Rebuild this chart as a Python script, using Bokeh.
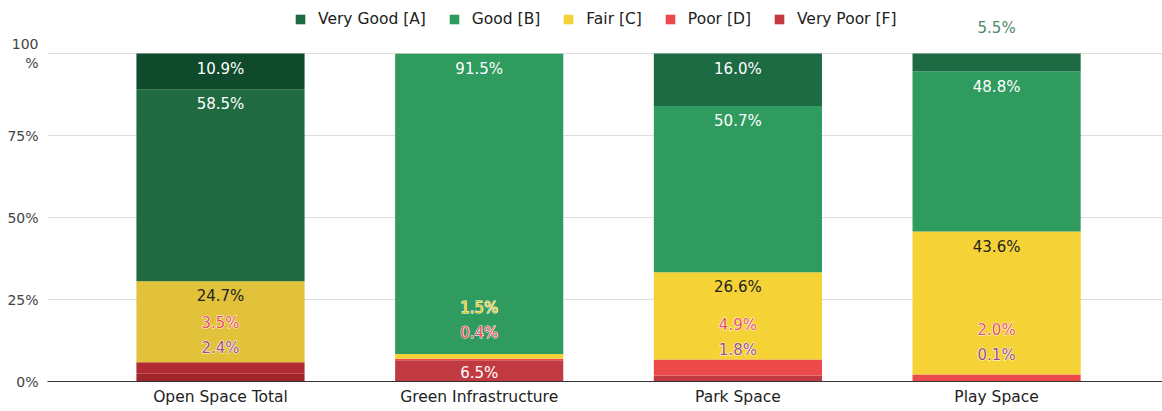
from bokeh.plotting import figure
from bokeh.models import ColumnDataSource, Range1d, FixedTicker, Legend, LegendItem
from bokeh.core.properties import value
from bokeh.embed import file_html
from bokeh.resources import INLINE

# ---------------- data ----------------
categories = ["Open Space Total", "Green Infrastructure", "Park Space", "Play Space"]
series_names = ["Very Good [A]", "Good [B]", "Fair [C]", "Poor [D]", "Very Poor [F]"]
very_good = [10.9, 0.0, 16.0, 5.5]
good = [58.5, 91.5, 50.7, 48.8]
fair = [24.7, 1.5, 26.6, 43.6]
poor = [3.5, 0.4, 4.9, 2.0]
very_poor = [2.4, 6.5, 1.8, 0.1]
y_ticks = [0, 25, 50, 75, 100]
y_tick_labels = ["0%", "25%", "50%", "75%", "100\n%"]

# ---------------- style / layout ----------------
FONT = "DejaVu Sans"
W, H = 1162, 411
BT, BB, BL, BR = 0, 30, 47, 0
FRAME_W = W - BL - BR
FRAME_H = H - BT - BB           # frame reaches the top so outside labels / legend are not clipped
TOP_LINE_PX = 53                # pixel row of the 100% line within the frame
ppu = (FRAME_H - TOP_LINE_PX) / 100.0
y_end = FRAME_H / ppu

base_colors = {"A": "#1d6b42", "B": "#2f9b5e", "C": "#f5d235", "D": "#ec4a4a", "F": "#c23a41"}
# first bar is shown darker (highlighted) in the original
dark_colors = {"A": "#0e4a2b", "B": "#1f6a41", "C": "#e2c23a", "D": "#b02b31", "F": "#9e2529"}
inside_text = {"A": "#ffffff", "B": "#ffffff", "C": "#222222", "D": "#ffffff", "F": "#ffffff"}
outside_text = {"A": "#4e8a67", "B": "#2f9b5e", "C": "#e3c41a", "D": "#e8505a", "F": "#9c4f78"}

keys = ["A", "B", "C", "D", "F"]
vals = {"A": very_good, "B": good, "C": fair, "D": poor, "F": very_poor}
names = dict(zip(keys, series_names))
stack_order = ["F", "D", "C", "B", "A"]  # bottom -> top

x = list(range(len(categories)))
unit_px = 258.7
x_start = -173 / unit_px
x_end = x_start + FRAME_W / unit_px

p = figure(width=W, height=H, output_backend="svg", toolbar_location=None,
           x_range=Range1d(x_start, x_end), y_range=Range1d(0, y_end),
           min_border_top=BT, min_border_bottom=BB, min_border_left=BL, min_border_right=BR)
p.outline_line_color = None
p.background_fill_color = "white"

renderers = {}
cum = [0.0] * len(categories)
for k in stack_order:
    bottoms = list(cum)
    tops = [b + v for b, v in zip(bottoms, vals[k])]
    cum = tops
    colors = [dark_colors[k]] + [base_colors[k]] * (len(categories) - 1)
    src = ColumnDataSource(dict(x=x, bottom=bottoms, top=tops, color=colors))
    renderers[k] = p.vbar(x="x", bottom="bottom", top="top", width=0.65, source=src,
                          fill_color="color", line_color=None)

# ---------------- data labels (collision-avoiding placement) ----------------
in_d = dict(x=[], y=[], t=[], c=[])
out_d = dict(x=[], y=[], t=[], c=[])
for i in range(len(categories)):
    c0 = 0.0
    prev = None
    for k in stack_order:
        v = vals[k][i]
        b, t = c0, c0 + v
        c0 = t
        if v <= 0:
            continue
        top_px = (100 - t) * ppu
        bot_px = (100 - b) * ppu
        if v * ppu >= 20:
            center = min(top_px + 15, bot_px - 9)
            inside = True
        else:
            center = top_px - 26
            inside = False
        if prev is not None:
            center = min(center, prev - 25)
        prev = center
        yv = 100 - center / ppu
        d = in_d if inside else out_d
        d["x"].append(i)
        d["y"].append(yv)
        d["t"].append(f"{v:.1f}%")
        d["c"].append(inside_text[k] if inside else outside_text[k])

p.text(x="x", y="y", text="t", text_color="c", source=ColumnDataSource(in_d),
       text_align="center", text_baseline="middle", text_font=value(FONT),
       text_font_size="15px")
out_src = ColumnDataSource(out_d)
p.text(x="x", y="y", text="t", text_color="white", source=out_src,
       text_align="center", text_baseline="middle", text_font=value(FONT),
       text_font_size="15px", text_outline_color="white")
p.text(x="x", y="y", text="t", text_color="c", source=out_src,
       text_align="center", text_baseline="middle", text_font=value(FONT),
       text_font_size="15px")

# ---------------- axes ----------------
p.xgrid.grid_line_color = None
p.ygrid.grid_line_color = "#dddddd"
p.ygrid.ticker = FixedTicker(ticks=y_ticks)

p.xaxis.ticker = FixedTicker(ticks=x)
p.xaxis.major_label_overrides = {i: c for i, c in zip(x, categories)}
p.xaxis.axis_line_color = "#333333"
p.xaxis.major_tick_line_color = None
p.xaxis.major_tick_out = 0
p.xaxis.minor_tick_line_color = None
p.xaxis.major_label_text_font = FONT
p.xaxis.major_label_text_font_size = "15.5px"
p.xaxis.major_label_text_color = "#222222"
p.xaxis.major_label_standoff = 6

p.yaxis.ticker = FixedTicker(ticks=y_ticks)
p.yaxis.major_label_overrides = {t: l for t, l in zip(y_ticks, y_tick_labels)}
p.yaxis.axis_line_color = None
p.yaxis.major_tick_line_color = None
p.yaxis.major_tick_out = 0
p.yaxis.minor_tick_line_color = None
p.yaxis.major_label_text_font = FONT
p.yaxis.major_label_text_font_size = "14px"
p.yaxis.major_label_text_color = "#444444"
p.yaxis.major_label_standoff = 9

# ---------------- legend ----------------
items = [LegendItem(label=names[k], renderers=[renderers[k]], index=1) for k in keys]
legend = Legend(items=items, orientation="horizontal", location=(247, FRAME_H - 29),
                glyph_width=12, glyph_height=12, label_standoff=12, spacing=22,
                padding=0, margin=0, label_height=20,
                label_text_font=FONT, label_text_font_size="15.5px",
                label_text_color="#222222", border_line_color=None,
                background_fill_alpha=0)
p.add_layout(legend)

open("out.html", "w").write(file_html(p, INLINE))
